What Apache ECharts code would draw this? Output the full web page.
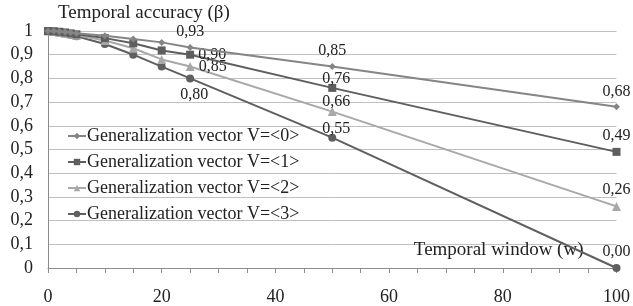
<!DOCTYPE html>
<html><head><meta charset="utf-8">
<script src="https://cdn.jsdelivr.net/npm/echarts@6/dist/echarts.min.js"></script>
<style>html,body{margin:0;padding:0;background:#fff}#c{width:633px;height:306px}</style>
</head><body><div id="c"></div>
<script>
const windows = [0, 1, 2, 3, 4, 5, 10, 15, 20, 25, 50, 100];
const v0 = [1, 1, 0.998, 0.996, 0.994, 0.99, 0.98, 0.966, 0.952, 0.93, 0.85, 0.68];
const v1 = [1, 0.999, 0.997, 0.994, 0.99, 0.986, 0.97, 0.948, 0.918, 0.90, 0.76, 0.49];
const v2 = [1, 0.998, 0.995, 0.991, 0.987, 0.982, 0.96, 0.927, 0.88, 0.85, 0.66, 0.26];
const v3 = [1, 0.997, 0.993, 0.989, 0.984, 0.978, 0.945, 0.90, 0.85, 0.80, 0.55, 0.00];
const seriesNames = ['Generalization vector V=<0>', 'Generalization vector V=<1>', 'Generalization vector V=<2>', 'Generalization vector V=<3>'];
const labelledWindows = [25, 50, 100];
const yTicks = [0, 0.1, 0.2, 0.3, 0.4, 0.5, 0.6, 0.7, 0.8, 0.9, 1];
const xLabels = [0, 20, 40, 60, 80, 100];

const colors = ['#858585', '#5e5e5e', '#a8a8a8', '#5f5f5f'];
const symbols = ['diamond', 'rect', 'triangle', 'circle'];
const symbolSizes = [7, 8, 9, 8];
const labelPos = [
  ['top', 'top', 'top'],
  ['right', 'top', 'top'],
  ['right', 'top', 'top'],
  ['bottom', 'top', 'top']
];
const labelOffset = [
  [[0, 0], [0, 0], [0, 0]],
  [[0, 0], [4, 7], [0, 0]],
  [[0, 0], [4, 7], [0, 0]],
  [[4, 0], [4, 7], [0, 0]]
];
const font = '"Liberation Serif", "Times New Roman", serif';
const fmt = v => v.toFixed(2).replace('.', ',');

function build(vals, si) {
  return windows.map((w, i) => {
    const li = labelledWindows.indexOf(w);
    const d = { value: [w, vals[i]] };
    if (li >= 0) {
      d.label = { show: true, position: labelPos[si][li], offset: labelOffset[si][li], formatter: p => fmt(p.value[1]) };
    }
    return d;
  });
}

const allVals = [v0, v1, v2, v3];
const chart = echarts.init(document.getElementById('c'), null, { renderer: 'canvas' });
chart.setOption({
  animation: false,
  textStyle: { fontFamily: font, color: '#222' },
  grid: { left: 48, right: 15, top: 31, bottom: 37 },
  legend: {
    orient: 'vertical', left: 62, top: 122,
    itemWidth: 18, itemHeight: 8, itemGap: 8,
    textStyle: { fontFamily: font, fontSize: 18, lineHeight: 18, color: '#222', padding: [0, 0, 0, -4] },
    data: seriesNames
  },
  xAxis: {
    type: 'value', min: 0, max: 100, interval: 5,
    name: 'Temporal window (w)', nameLocation: 'end', nameGap: -33,
    nameTextStyle: { fontFamily: font, fontSize: 19, color: '#222', align: 'right', verticalAlign: 'bottom', padding: [0, 0, 8, 0] },
    axisLine: { lineStyle: { color: '#8c8c8c' } },
    axisTick: { show: true, length: 5, lineStyle: { color: '#8c8c8c' } },
    axisLabel: { fontFamily: font, fontSize: 18, color: '#222', margin: 20,
      formatter: v => xLabels.indexOf(v) >= 0 ? String(v) : '' },
    splitLine: { show: false }
  },
  yAxis: {
    type: 'value', min: 0, max: 1, interval: 0.1,
    name: 'Temporal accuracy (β)', nameLocation: 'end', nameGap: 8,
    nameTextStyle: { fontFamily: font, fontSize: 19, color: '#222', align: 'left', padding: [0, 0, 0, 10] },
    axisLine: { show: true, lineStyle: { color: '#8c8c8c' } },
    axisTick: { show: false },
    axisLabel: { fontFamily: font, fontSize: 18, color: '#222', margin: 15,
      formatter: v => { const t = yTicks.find(y => Math.abs(y - v) < 1e-9); return t === undefined ? '' : (t === 0 || t === 1 ? String(t) : String(t).replace('.', ',')); } },
    splitLine: { show: true, lineStyle: { color: '#c0c0c0' } }
  },
  series: allVals.map((vals, si) => ({
    name: seriesNames[si], type: 'line',
    data: build(vals, si),
    symbol: symbols[si], symbolSize: symbolSizes[si],
    showAllSymbol: true,
    lineStyle: { color: colors[si], width: 2 },
    itemStyle: { color: colors[si] },
    label: { show: false, fontFamily: font, fontSize: 16, color: '#222', distance: 4 },
    z: 2 + (3 - si)
  }))
});
</script></body></html>
